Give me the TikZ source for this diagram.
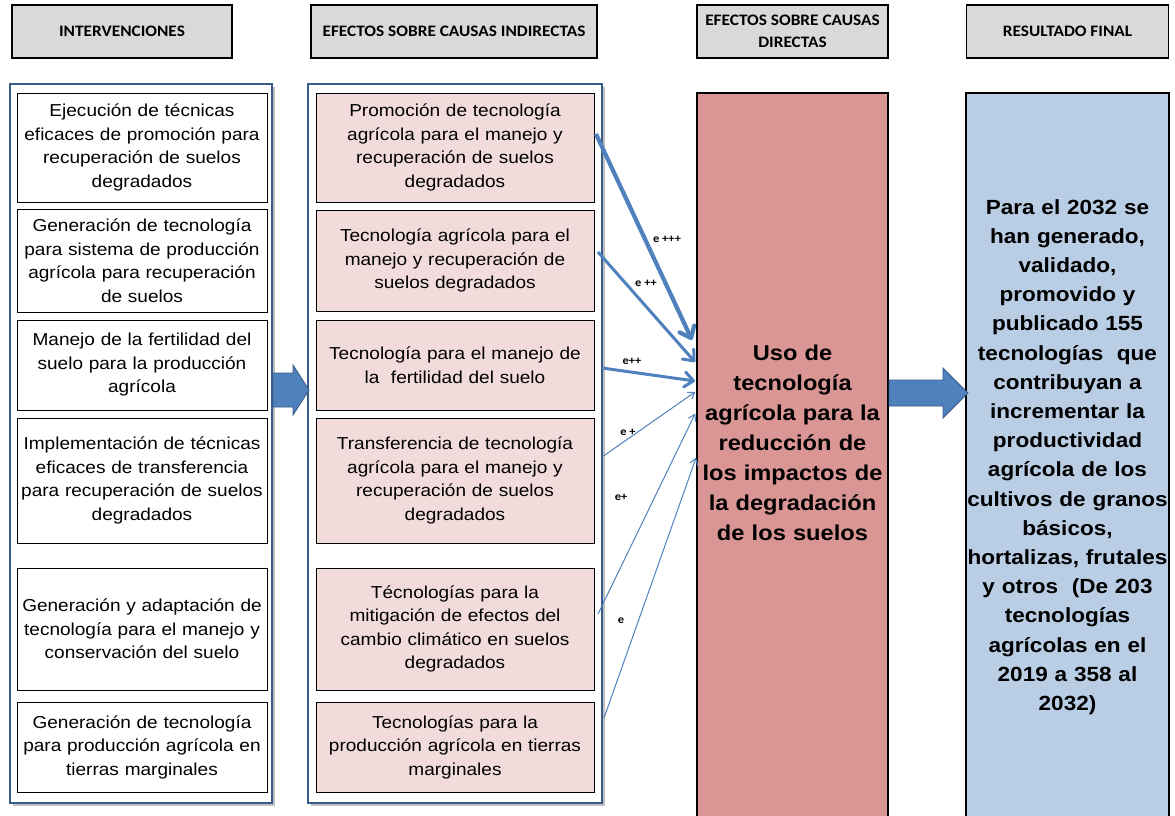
\documentclass[tikz,border=0pt]{standalone}
\usepackage{fontspec}
\setmainfont{Liberation Sans}
\newfontfamily\widesans[FakeStretch=1.1]{Liberation Sans}
\newfontfamily\calibri[FakeStretch=1.08]{Carlito}
\usetikzlibrary{arrows.meta}
\definecolor{hdrgray}{HTML}{D9D9D9}
\definecolor{pinkbox}{HTML}{F2DCDB}
\definecolor{redbox}{HTML}{DA9694}
\definecolor{bluebox}{HTML}{B9CDE5}
\definecolor{arrowblue}{HTML}{4F81BD}
\definecolor{darkblue}{HTML}{385D8A}
\begin{document}
\begin{tikzpicture}[x=1pt,y=-1pt,
  hdr/.style={draw=black,line width=1.8pt,fill=hdrgray,align=center,inner sep=0pt,
    font=\calibri\bfseries\fontsize{16}{22}\selectfont},
  leftbox/.style={draw=black,line width=0.9pt,fill=white,align=center,inner sep=0pt,
    text width=249pt,minimum width=250pt,font=\widesans\fontsize{17.3}{23.5}\selectfont},
  midbox/.style={leftbox,fill=pinkbox,text width=277pt,minimum width=278pt},
  container/.style={draw=darkblue,line width=1.8pt,fill=white},
  shadowbox/.style={fill=black!25},
  blockarrow/.style={draw=darkblue,line width=0.9pt,fill=arrowblue},
  conn/.style={draw=arrowblue},
  lbl/.style={font=\calibri\bfseries\fontsize{11.5}{12}\selectfont,inner sep=0pt},
  bigtext/.style={align=center,inner sep=0pt}
]
\useasboundingbox (0,0) rectangle (1175,816);
\clip (0,0) rectangle (1175,816);

% headers
\node[hdr,minimum width=220pt,minimum height=53pt] (h1) at (122,31.5) {INTERVENCIONES};
\node[hdr,minimum width=286pt,minimum height=53pt] (h2) at (454,31.5) {EFECTOS SOBRE CAUSAS INDIRECTAS};
\node[hdr,minimum width=191pt,minimum height=53pt] (h3) at (792.5,31.5) {EFECTOS SOBRE CAUSAS\\DIRECTAS};
\node[hdr,minimum width=202pt,minimum height=53pt] (h4) at (1067.5,31.5) {RESULTADO FINAL};

% containers
\fill[shadowbox] (13,87) rectangle (275,806);
\fill[shadowbox] (311,87) rectangle (605,806);
\draw[container] (10,84) rectangle (272,803);
\draw[container] (308,84) rectangle (602,803);

% left boxes
\node[leftbox,minimum height=109pt] (l1) at (142,147.5) {Ejecución de técnicas\\eficaces de promoción para\\recuperación de suelos\\degradados};
\node[leftbox,minimum height=103pt] (l2) at (142,260.5) {Generación de tecnología\\para sistema de producción\\agrícola para recuperación\\de suelos};
\node[leftbox,minimum height=90pt] (l3) at (142,365) {Manejo de la fertilidad del\\suelo para la producción\\agrícola};
\node[leftbox,minimum height=125pt] (l4) at (142,480.5) {Implementación de técnicas\\eficaces de transferencia\\para recuperación de suelos\\degradados};
\node[leftbox,minimum height=122pt] (l5) at (142,629) {Generación y adaptación de\\tecnología para el manejo y\\conservación del suelo};
\node[leftbox,minimum height=90pt] (l6) at (142,747) {Generación de tecnología\\para producción agrícola en\\tierras marginales};

% middle boxes
\node[midbox,minimum height=109pt] (m1) at (455,147.5) {Promoción de tecnología\\agrícola para el manejo y\\recuperación de suelos\\degradados};
\node[midbox,minimum height=101pt] (m2) at (455,260.5) {Tecnología agrícola para el\\manejo y recuperación de\\suelos degradados};
\node[midbox,minimum height=90pt] (m3) at (455,365) {Tecnología para el manejo de\\la \ fertilidad del suelo};
\node[midbox,minimum height=125pt] (m4) at (455,480.5) {Transferencia de tecnología\\agrícola para el manejo y\\recuperación de suelos\\degradados};
\node[midbox,minimum height=122pt] (m5) at (455,629) {Técnologías para la\\mitigación de efectos del\\cambio climático en suelos\\degradados};
\node[midbox,minimum height=90pt] (m6) at (455,747) {Tecnologías para la\\producción agrícola en tierras\\marginales};

% big boxes
\fill[redbox] (697,93) rectangle (888,830);
\draw[black,line width=1.3pt] (697,830) -- (697,93) -- (888,93) -- (888,830);
\node[bigtext,text width=190pt,font=\widesans\bfseries\fontsize{21.5}{30.1}\selectfont] (dir) at (792.5,443) {Uso de\\tecnología\\agrícola para la\\reducción de\\los impactos de\\la degradación\\de los suelos};
\fill[bluebox] (966,93) rectangle (1169,830);
\draw[black,line width=1.3pt] (966,830) -- (966,93) -- (1169,93) -- (1169,830);
\node[bigtext,text width=203pt,font=\widesans\bfseries\fontsize{20.5}{29.2}\selectfont] (res) at (1067.5,457) {Para el 2032 se\\han generado,\\validado,\\promovido y\\publicado 155\\tecnologías \ que\\contribuyan a\\incrementar la\\productividad\\agrícola de los\\cultivos de granos\\básicos,\\hortalizas, frutales\\y otros \ (De 203\\tecnologías\\agrícolas en el\\2019 a 358 al\\2032)};

% block arrows
\draw[blockarrow] (273,373) -- (293,373) -- (293,365) -- (309,390) -- (293,415) -- (293,407) -- (273,407) -- cycle;
\draw[blockarrow] (889,380) -- (943,380) -- (943,368) -- (968,393) -- (943,418) -- (943,406) -- (889,406) -- cycle;

% connectors
\coordinate (s1) at (596,134);
\coordinate (s2) at (598,252);
\coordinate (s3) at (602,368);
\coordinate (s4) at (602,457);
\coordinate (s5) at (598,614);
\coordinate (s6) at (604,718);
\coordinate (t1) at (692,340);
\coordinate (t2) at (695,362);
\coordinate (t3) at (695,381);
\coordinate (t4) at (695,392);
\coordinate (t5) at (695,414);
\coordinate (t6) at (696,458);
\draw[conn,line width=4.2pt,-{Straight Barb[length=10pt,width=16pt,round]}] (s1) -- (t1);
\draw[conn,line width=3pt,-{Straight Barb[length=9pt,width=15pt,round]}] (s2) -- (t2);
\draw[conn,line width=3pt,-{Straight Barb[length=9pt,width=15pt,round]}] (s3) -- (t3);
\draw[conn,line width=1pt,-{Straight Barb[length=6pt,width=8pt,round]}] (s4) -- (t4);
\draw[conn,line width=1pt,-{Straight Barb[length=6pt,width=8pt,round]}] (s5) -- (t5);
\draw[conn,line width=1pt,-{Straight Barb[length=6pt,width=8pt,round]}] (s6) -- (t6);

% labels
\node[lbl] (e1) at (667,239) {e +++};
\node[lbl] (e2) at (646,283) {e ++};
\node[lbl] (e3) at (632,361) {e++};
\node[lbl] (e4) at (628,432) {e +};
\node[lbl] (e5) at (621,497) {e+};
\node[lbl] (e6) at (621,621) {e};
\end{tikzpicture}
\end{document}
